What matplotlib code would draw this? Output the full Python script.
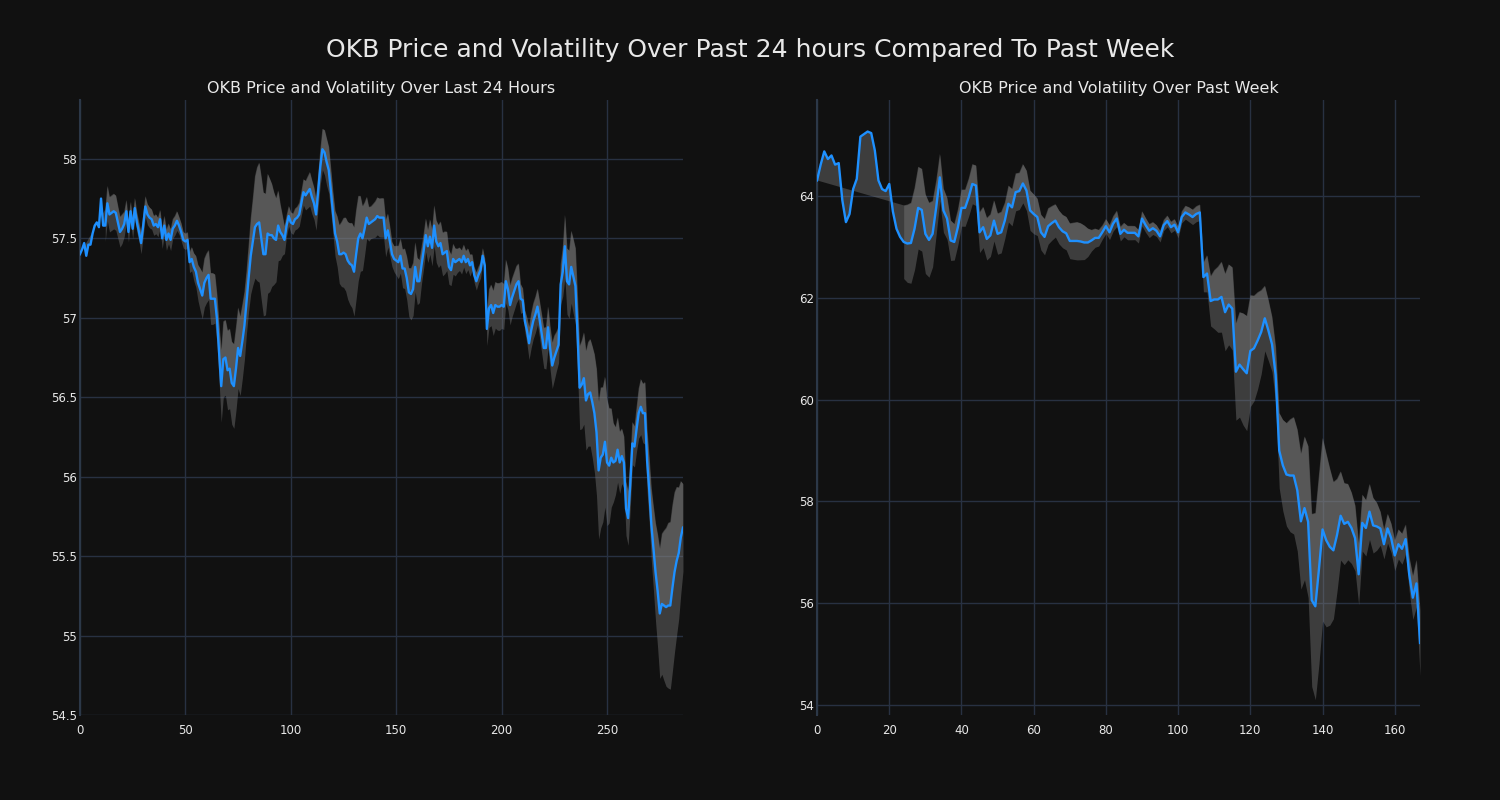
import numpy as np
import pandas as pd
import matplotlib
matplotlib.use("Agg")
import matplotlib.pyplot as plt
from matplotlib.ticker import FuncFormatter, MultipleLocator

# ---------------- data ----------------
suptitle = "OKB Price and Volatility Over Past 24 hours Compared To Past Week"
title_day = "OKB Price and Volatility Over Last 24 Hours"
title_week = "OKB Price and Volatility Over Past Week"

price_day = [
    57.40, 57.43, 57.47, 57.39, 57.46, 57.46, 57.53, 57.58, 57.60, 57.57,
    57.75, 57.58, 57.58, 57.72, 57.65, 57.66, 57.67, 57.66, 57.60, 57.54,
    57.56, 57.59, 57.67, 57.54, 57.67, 57.56, 57.69, 57.60, 57.54, 57.47,
    57.58, 57.70, 57.65, 57.63, 57.62, 57.58, 57.59, 57.57, 57.62, 57.50,
    57.58, 57.49, 57.53, 57.49, 57.56, 57.58, 57.61, 57.58, 57.54, 57.49,
    57.48, 57.49, 57.35, 57.37, 57.32, 57.29, 57.22, 57.18, 57.14, 57.22,
    57.25, 57.27, 57.12, 57.12, 57.12, 56.99, 56.78, 56.57, 56.74, 56.75,
    56.67, 56.68, 56.59, 56.57, 56.68, 56.81, 56.76, 56.85, 56.95, 57.10,
    57.25, 57.39, 57.48, 57.57, 57.59, 57.60, 57.50, 57.40, 57.40, 57.53,
    57.52, 57.52, 57.50, 57.49, 57.58, 57.54, 57.52, 57.49, 57.58, 57.64,
    57.60, 57.59, 57.62, 57.63, 57.65, 57.72, 57.79, 57.77, 57.79, 57.81,
    57.76, 57.72, 57.65, 57.80, 57.95, 58.06, 58.04, 57.98, 57.93, 57.80,
    57.66, 57.53, 57.48, 57.40, 57.40, 57.41, 57.40, 57.36, 57.34, 57.33,
    57.29, 57.40, 57.50, 57.53, 57.50, 57.56, 57.63, 57.59, 57.60, 57.61,
    57.62, 57.64, 57.63, 57.63, 57.63, 57.50, 57.55, 57.48, 57.40, 57.37,
    57.36, 57.35, 57.39, 57.31, 57.31, 57.25, 57.16, 57.15, 57.18, 57.32,
    57.23, 57.23, 57.33, 57.42, 57.52, 57.45, 57.51, 57.44, 57.58, 57.48,
    57.45, 57.47, 57.40, 57.41, 57.42, 57.32, 57.30, 57.37, 57.35, 57.36,
    57.37, 57.35, 57.39, 57.35, 57.37, 57.33, 57.35, 57.27, 57.23, 57.27,
    57.30, 57.39, 57.33, 56.93, 57.06, 57.08, 57.03, 57.08, 57.07, 57.07,
    57.08, 57.07, 57.23, 57.18, 57.08, 57.13, 57.17, 57.21, 57.23, 57.12,
    57.11, 56.98, 56.92, 56.84, 56.92, 56.98, 57.02, 57.07, 56.99, 56.90,
    56.81, 56.81, 56.94, 56.81, 56.70, 56.75, 56.79, 56.83, 57.21, 57.29,
    57.45, 57.23, 57.21, 57.32, 57.26, 57.20, 56.90, 56.56, 56.58, 56.62,
    56.48, 56.52, 56.53, 56.47, 56.40, 56.28, 56.04, 56.12, 56.14, 56.22,
    56.09, 56.07, 56.12, 56.09, 56.10, 56.17, 56.09, 56.13, 56.09, 55.80,
    55.74, 55.95, 56.21, 56.19, 56.30, 56.40, 56.44, 56.40, 56.40, 56.10,
    55.92, 55.70, 55.55, 55.40, 55.28, 55.14, 55.20, 55.19, 55.18, 55.19,
    55.19, 55.30, 55.40, 55.47, 55.52, 55.62, 55.68,
]

price_week = [
    64.31, 64.62, 64.88, 64.73, 64.80, 64.62, 64.65, 63.92, 63.49, 63.65,
    64.14, 64.34, 65.17, 65.22, 65.27, 65.24, 64.90, 64.31, 64.14, 64.10,
    64.24, 63.70, 63.36, 63.20, 63.10, 63.07, 63.08, 63.36, 63.77, 63.73,
    63.26, 63.14, 63.26, 63.78, 64.37, 63.72, 63.56, 63.13, 63.10, 63.39,
    63.77, 63.77, 63.98, 64.24, 64.21, 63.29, 63.39, 63.16, 63.23, 63.52,
    63.26, 63.29, 63.52, 63.85, 63.78, 64.08, 64.10, 64.25, 64.11, 63.72,
    63.65, 63.59, 63.29, 63.20, 63.41, 63.47, 63.52, 63.39, 63.31, 63.27,
    63.12, 63.12, 63.12, 63.11, 63.09, 63.09, 63.13, 63.18, 63.18, 63.29,
    63.41, 63.29, 63.46, 63.56, 63.26, 63.34, 63.28, 63.28, 63.28, 63.21,
    63.56, 63.43, 63.32, 63.37, 63.32, 63.21, 63.43, 63.51, 63.39, 63.44,
    63.29, 63.59, 63.68, 63.64, 63.59, 63.65, 63.68, 62.41, 62.48, 61.94,
    61.97, 61.97, 62.02, 61.72, 61.87, 61.79, 60.55, 60.69, 60.60, 60.52,
    60.96, 61.01, 61.16, 61.33, 61.60, 61.36, 61.09, 60.49, 59.00, 58.71,
    58.53, 58.51, 58.51, 58.22, 57.61, 57.87, 57.60, 56.06, 55.94, 56.67,
    57.45, 57.24, 57.11, 57.04, 57.34, 57.72, 57.56, 57.60, 57.48, 57.28,
    56.57, 57.58, 57.48, 57.80, 57.53, 57.51, 57.47, 57.16, 57.47, 57.28,
    56.94, 57.16, 57.07, 57.26, 56.57, 56.11, 56.39, 55.22,
]

# rolling-volatility settings (window length, first index where the band is shown)
day_window, day_band_start = 18, 12
week_window, week_band_start = 18, 24

# ---------------- style ----------------
BG = "#111111"
GRID = "#283142"
TXT = "#e8e8e8"
LINE = "#1e90ff"
BAND = "#808080"

plt.rcParams["font.family"] = ["DejaVu Sans"]

fig = plt.figure(figsize=(15, 8), dpi=100, facecolor=BG)
ax1 = fig.add_axes([0.0533, 0.106, 0.402, 0.769])
ax2 = fig.add_axes([0.5447, 0.106, 0.402, 0.769])


def draw(ax, prices, window, start, title, ylim, ystep, xstep):
    p = pd.Series(prices, dtype=float)
    x = np.arange(len(p))
    vol = p.rolling(window, min_periods=min(window, start + 1)).std()
    vol.iloc[:start] = np.nan
    upper = (p + vol).to_numpy()
    lower = (p - vol).to_numpy()
    valid = vol.notna().to_numpy()
    xv = x[valid]
    # upper band filled towards the price trace (plotly-like 'tonexty')
    ax.fill(np.concatenate([x, xv[::-1]]),
            np.concatenate([p.to_numpy(), upper[valid][::-1]]),
            color=BAND, alpha=0.4, lw=0, zorder=2)
    ax.fill_between(xv, lower[valid], upper[valid],
                    color=BAND, alpha=0.4, lw=0, zorder=2)
    ax.plot(x, p, color=LINE, lw=1.7, zorder=3)

    ax.set_facecolor(BG)
    ax.set_xlim(0, len(p) - 1)
    ax.set_ylim(*ylim)
    ax.xaxis.set_major_locator(MultipleLocator(xstep))
    ax.yaxis.set_major_locator(MultipleLocator(ystep))
    ax.yaxis.set_major_formatter(FuncFormatter(lambda v, _: f"{v:g}"))
    ax.grid(True, color=GRID, lw=1, zorder=0)
    ax.set_axisbelow(True)
    for s in ("top", "right", "bottom"):
        ax.spines[s].set_visible(False)
    ax.spines["left"].set_color("#2c3848")
    ax.spines["left"].set_linewidth(1.5)
    ax.tick_params(axis="y", length=0, pad=2, colors=TXT, labelsize=8.5)
    ax.tick_params(axis="x", length=0, pad=6, colors=TXT, labelsize=8.5)
    ax.set_title(title, color=TXT, fontsize=11.5, pad=5)


draw(ax1, price_day, day_window, day_band_start, title_day, (54.5, 58.37), 0.5, 50)
draw(ax2, price_week, week_window, week_band_start, title_week, (53.8, 65.89), 2, 20)

fig.suptitle(suptitle, color=TXT, fontsize=18, y=0.9375, va="center")

fig.savefig("out.png", dpi=100, facecolor=BG)
